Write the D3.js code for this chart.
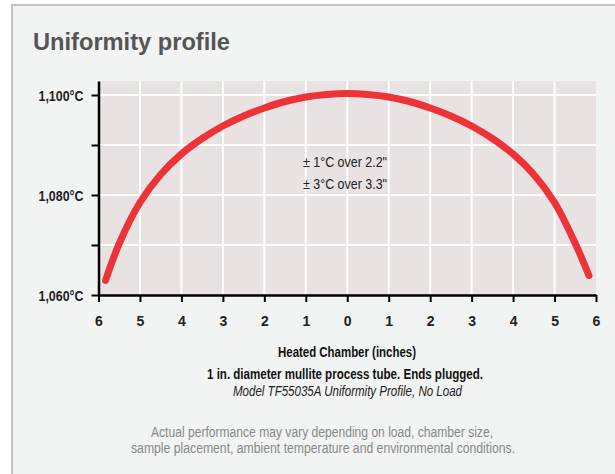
<!DOCTYPE html>
<html><head><meta charset="utf-8">
<script src="https://cdn.jsdelivr.net/npm/d3@7"></script>
<style>
body{margin:0;background:#fff;}
text{font-family:"Liberation Sans Narrow","Liberation Sans",Arial,sans-serif;}
</style></head>
<body>
<svg id="c" width="615" height="474"></svg>
<script>
const positions = [-5.83,-5.5,-5,-4.5,-4,-3.5,-3,-2.5,-2,-1.5,-1,-0.5,0,0.5,1,1.5,2,2.5,3,3.5,4,4.5,5,5.5,5.83];
const temps = [1062.9,1070.3,1078.5,1084.1,1088.2,1091.3,1093.8,1095.8,1097.4,1098.7,1099.6,1100.1,1100.3,1100.1,1099.6,1098.7,1097.4,1095.8,1093.8,1091.3,1088.2,1084.1,1078.5,1070.3,1063.9];
const xTicks = [-6,-5,-4,-3,-2,-1,0,1,2,3,4,5,6];
const yTicks = [1060,1070,1080,1090,1100];
const yLabels = [1060,1080,1100];
const notes = ["\u00b1 1\u00b0C over 2.2\"", "\u00b1 3\u00b0C over 3.3\""];
const captions = ["Heated Chamber (inches)", "1 in. diameter mullite process tube. Ends plugged.", "Model TF55035A Uniformity Profile, No Load"];
const footnotes = ["Actual performance may vary depending on load, chamber size,", "sample placement, ambient temperature and environmental conditions."];

const svg = d3.select("#c");
svg.append("rect").attr("x",12).attr("y",5).attr("width",610).attr("height",475)
  .attr("fill","#f2f3f3").attr("stroke","#c4c4c4").attr("stroke-width",2);

svg.append("text").attr("x",33).attr("y",50).text("Uniformity profile")
  .attr("font-size",24).attr("font-weight","bold").attr("fill","#555")
  .attr("textLength",197).attr("lengthAdjust","spacingAndGlyphs");

const x = d3.scaleLinear().domain([-6,6]).range([98.5,596]);
const y = d3.scaleLinear().domain([1060,1102.8]).range([295,81]);

svg.append("rect").attr("x",x(-6)).attr("y",y(1102.8)).attr("width",x(6)-x(-6)).attr("height",y(1060)-y(1102.8))
  .attr("fill","#e8e2e2");

const g = svg.append("g");
g.selectAll(".vg").data(xTicks.filter(d=>d>-6&&d<6)).join("line")
  .attr("x1",d=>x(d)).attr("x2",d=>x(d)).attr("y1",y(1102.8)).attr("y2",y(1060))
  .attr("stroke","#fff").attr("stroke-width",2);
g.selectAll(".hg").data(yTicks.filter(d=>d>1060)).join("line")
  .attr("x1",x(-6)).attr("x2",x(6)).attr("y1",d=>y(d)).attr("y2",d=>y(d))
  .attr("stroke","#fff").attr("stroke-width",2);

const line = d3.line().x((d,i)=>x(positions[i])).y(d=>y(d)).curve(d3.curveCatmullRom);
svg.append("path").datum(temps).attr("d",line).attr("fill","none")
  .attr("stroke","#ee3338").attr("stroke-width",7).attr("stroke-linecap","round");

const xAxis = svg.append("g").attr("transform",`translate(0,${y(1060)})`)
  .call(d3.axisBottom(x).tickValues(xTicks).tickFormat(d=>Math.abs(d)).tickSize(7).tickSizeOuter(0));
xAxis.select(".domain").attr("stroke","#000").attr("stroke-width",2.5);
xAxis.selectAll(".tick line").attr("stroke","#000").attr("stroke-width",2);
xAxis.selectAll(".tick text").attr("font-size",14).attr("font-weight","bold").attr("fill","#222")
  .attr("y",31).attr("dy",0);

const yAxis = svg.append("g").attr("transform",`translate(${x(-6)},0)`)
  .call(d3.axisLeft(y).tickValues(yTicks).tickFormat(d=>yLabels.includes(d)?d3.format(",")(d)+"\u00b0C":"").tickSize(7).tickSizeOuter(0));
yAxis.select(".domain").attr("stroke","#000").attr("stroke-width",2.5);
yAxis.selectAll(".tick line").attr("stroke","#000").attr("stroke-width",2);
yAxis.selectAll(".tick text").attr("font-size",14).attr("font-weight","bold").attr("fill","#222")
  .attr("x",-15).attr("dy","0.36em")
  .each(function(d){ if(yLabels.includes(d)) d3.select(this).attr("textLength",45).attr("lengthAdjust","spacingAndGlyphs"); });

svg.selectAll(".note").data(notes).join("text")
  .attr("x",303).attr("y",(d,i)=>167+i*21.5).text(d=>d)
  .attr("font-size",14).attr("fill","#222")
  .attr("textLength",84).attr("lengthAdjust","spacingAndGlyphs");

const capY = [357,379,396], capW = [138,276,229];
svg.selectAll(".cap").data(captions).join("text").attr("x",(d,i)=>[347,345,347.5][i]).attr("y",(d,i)=>capY[i])
  .attr("text-anchor","middle").text(d=>d).attr("font-size",14)
  .attr("font-weight",(d,i)=>i<2?"bold":"normal").attr("font-style",(d,i)=>i==2?"italic":"normal")
  .attr("fill",(d,i)=>i<2?"#111":"#222")
  .attr("textLength",(d,i)=>capW[i]).attr("lengthAdjust","spacingAndGlyphs");

svg.selectAll(".foot").data(footnotes).join("text").attr("x",(d,i)=>[322,323][i]).attr("y",(d,i)=>[437,453][i])
  .attr("text-anchor","middle").text(d=>d).attr("font-size",14).attr("fill","#888")
  .attr("textLength",(d,i)=>[342,384][i]).attr("lengthAdjust","spacingAndGlyphs");
</script>
</body></html>
